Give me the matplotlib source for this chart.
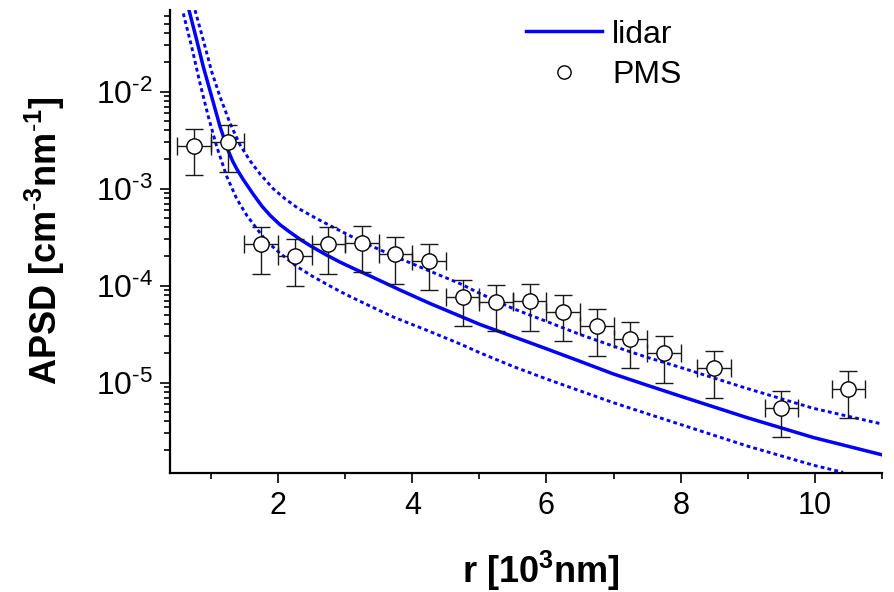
import matplotlib
matplotlib.use('Agg')
import matplotlib.pyplot as plt
from matplotlib import font_manager as fm
from matplotlib.ticker import MultipleLocator, LogLocator, NullFormatter


def has_font(name):
    try:
        fm.findfont(fm.FontProperties(family=name, weight='bold'),
                    fallback_to_default=False)
        return True
    except Exception:
        return False


NARROW = has_font('Liberation Sans Narrow')
label_family = ['Liberation Sans Narrow', 'Liberation Sans'] if NARROW else ['Liberation Sans']
label_size = 30 if NARROW else 26

plt.rcParams['font.family'] = ['Liberation Sans', 'DejaVu Sans']
plt.rcParams['mathtext.fontset'] = 'custom'
plt.rcParams['mathtext.rm'] = 'Liberation Sans'
plt.rcParams['mathtext.it'] = 'Liberation Sans:italic'
plt.rcParams['mathtext.bf'] = ('Liberation Sans Narrow:bold' if NARROW
                               else 'Liberation Sans:bold')

# ---- data ----
# PMS measurements
pms_r = [0.75, 1.25, 1.75, 2.25, 2.75, 3.25, 3.75, 4.25, 4.75, 5.25,
         5.75, 6.25, 6.75, 7.25, 7.75, 8.5, 9.5, 10.5]
pms_apsd = [2.75e-3, 3.0e-3, 2.67e-4, 2.0e-4, 2.67e-4, 2.75e-4, 2.1e-4, 1.8e-4,
            7.6e-5, 6.8e-5, 6.9e-5, 5.4e-5, 3.8e-5, 2.8e-5, 2.0e-5, 1.4e-5,
            5.5e-6, 8.7e-6]
pms_apsd_err = [1.38e-3, 1.5e-3, 1.34e-4, 1.0e-4, 1.34e-4, 1.38e-4, 1.05e-4, 9.0e-5,
                3.8e-5, 3.4e-5, 3.45e-5, 2.7e-5, 1.9e-5, 1.4e-5, 1.0e-5, 7.0e-6,
                2.75e-6, 4.35e-6]
pms_r_err = 0.25

# lidar retrieval (central curve)
lidar_r = [0.673, 0.788, 0.886, 1.011, 1.135, 1.259, 1.321, 1.384, 1.482, 1.631,
           1.761, 1.880, 2.029, 2.178, 2.327, 2.476, 2.700, 2.923, 3.147,
           3.371, 3.818, 4.265, 4.761, 5.010, 5.502, 6.004, 6.500, 6.997,
           7.484, 7.991, 8.985, 9.977, 11.02]
lidar_apsd = [6.93e-2, 3.40e-2, 1.81e-2, 8.89e-3, 4.37e-3, 2.45e-3, 1.94e-3, 1.60e-3,
              1.24e-3, 8.75e-4, 6.59e-4, 5.32e-4, 4.25e-4, 3.56e-4, 3.01e-4,
              2.59e-4, 2.11e-4, 1.75e-4, 1.48e-4, 1.26e-4, 9.02e-5, 6.55e-5,
              4.70e-5, 3.98e-5, 2.99e-5, 2.23e-5, 1.66e-5, 1.23e-5, 9.49e-6,
              7.28e-6, 4.37e-6, 2.72e-6, 1.79e-6]

# lidar uncertainty bounds
upper_r = [0.763, 0.886, 1.011, 1.135, 1.284, 1.433, 1.582, 1.731, 1.929,
           2.104, 2.298, 2.551, 2.804, 3.072, 3.296, 3.788, 4.265, 4.712,
           5.010, 5.502, 6.004, 6.500, 6.997, 7.484, 7.991, 8.985, 9.977, 11.02]
upper_apsd = [6.93e-2, 3.40e-2, 1.61e-2, 8.89e-3, 4.73e-3, 2.83e-3, 1.94e-3,
              1.42e-3, 9.97e-4, 7.87e-4, 6.28e-4, 5.02e-4, 4.06e-4, 3.27e-4,
              2.74e-4, 1.94e-4, 1.41e-4, 1.05e-4, 8.30e-5, 5.81e-5, 4.27e-5,
              3.14e-5, 2.38e-5, 1.84e-5, 1.44e-5, 8.73e-6, 5.44e-6, 3.72e-6]
lower_r = [0.588, 0.713, 0.837, 0.961, 1.086, 1.235, 1.384, 1.533, 1.672,
           1.821, 2.029, 2.278, 2.521, 2.775, 3.013, 3.271, 3.718, 4.190,
           4.712, 5.010, 5.502, 6.004, 6.500, 6.997, 7.484, 7.991, 8.985,
           9.977, 10.42]
lower_apsd = [6.41e-2, 2.90e-2, 1.22e-2, 5.53e-3, 2.72e-3, 1.34e-3, 7.87e-4,
              5.32e-4, 3.96e-4, 2.91e-4, 2.16e-4, 1.58e-4, 1.24e-4, 9.91e-5,
              8.10e-5, 6.65e-5, 4.75e-5, 3.53e-5, 2.51e-5, 2.03e-5, 1.47e-5,
              1.09e-5, 8.23e-6, 6.22e-6, 4.83e-6, 3.72e-6, 2.23e-6, 1.41e-6,
              1.19e-6]

x_ticks = [2, 4, 6, 8, 10]
y_ticks = [1e-5, 1e-4, 1e-3, 1e-2]
y_tick_exps = ['5', '4', '3', '2']

# ---- figure ----
fig = plt.figure(figsize=(8.94, 5.92), dpi=100)
ax = fig.add_axes([170 / 894, 1 - 472.7 / 592, 712 / 894, 462.7 / 592])

blue = '#0000ff'
dot = (0, (1.3, 1.1))
ax.plot(lidar_r, lidar_apsd, color=blue, lw=2.5, zorder=2, label='lidar',
        solid_joinstyle='round')
ax.plot(upper_r, upper_apsd, color=blue, lw=2.1, ls=dot, zorder=2)
ax.plot(lower_r, lower_apsd, color=blue, lw=2.1, ls=dot, zorder=2)

ax.errorbar(pms_r, pms_apsd, yerr=pms_apsd_err, xerr=pms_r_err, fmt='none',
            ecolor='#1a1a1a', elinewidth=1.0, capsize=6.8, capthick=1.0, zorder=3)
ax.plot(pms_r, pms_apsd, 'o', ms=11, mfc='white', mec='black', mew=1.0,
        ls='none', zorder=4, label='PMS')

ax.set_yscale('log')
ax.set_xlim(0.39, 11.0)
ax.set_ylim(1.18e-6, 6.95e-2)

ax.xaxis.set_minor_locator(MultipleLocator(1))
ax.set_xticks(x_ticks)
ax.set_xticklabels([str(t) for t in x_ticks])
ax.yaxis.set_minor_locator(LogLocator(base=10, subs=range(2, 10), numticks=20))
ax.yaxis.set_minor_formatter(NullFormatter())
ax.set_yticks(y_ticks)
ax.set_yticklabels([r'$\mathregular{10^{\text{-}%s}}$' % e for e in y_tick_exps])

for s in ['top', 'right']:
    ax.spines[s].set_visible(False)
for s in ['left', 'bottom']:
    ax.spines[s].set_linewidth(1.6)

ax.tick_params(which='major', direction='out', length=7.5, width=1.2, pad=5)
ax.tick_params(which='minor', direction='out', length=4.5, width=1.2)
ax.tick_params(axis='y', which='major', labelsize=23)
ax.tick_params(axis='x', which='major', labelsize=22, pad=6)

fig.text(45 / 894, 1 - 241 / 592,
         r'APSD [cm$^{\text{-}\mathbf{3}}$nm$^{\text{-}\mathbf{1}}$]',
         rotation=90, ha='center', va='center', fontsize=label_size,
         fontweight='bold', family=label_family)
fig.text(541 / 894, (592 - 583) / 592, r'r [10$^{\mathbf{3}}$nm]',
         ha='center', va='baseline', fontsize=label_size, fontweight='bold',
         family=label_family)

leg = ax.legend(loc='upper left', bbox_to_anchor=(0.4996, 0.9794), frameon=False,
                fontsize=23, handlelength=2.4, handletextpad=0.3,
                borderpad=0, borderaxespad=0, labelspacing=0.32, markerscale=0.87)

fig.savefig('out.png', dpi=100)
